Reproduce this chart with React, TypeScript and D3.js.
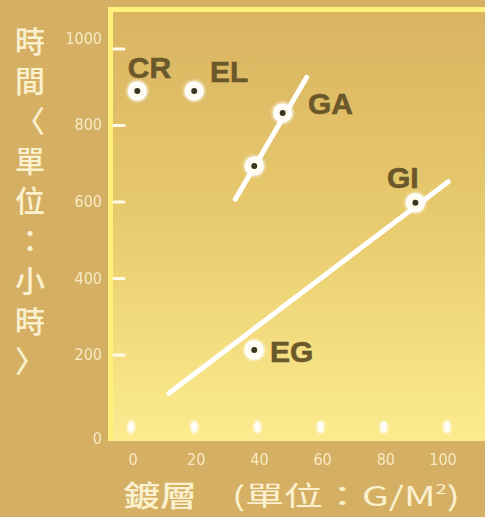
import React from "react";
import * as d3 from "d3";

const xTicks = [0, 20, 40, 60, 80, 100];
const yTicks = [0, 200, 400, 600, 800, 1000];
const pointNames = ["CR", "EL", "GA", "GA", "GI", "EG"];
const pointX = [2, 20, 48, 39, 90, 39];
const pointY = [890, 890, 833, 694, 598, 213];
const labelNames = ["CR", "EL", "GA", "GI", "EG"];
const labelX = [-1, 25, 56, 81, 44];
const labelY = [952, 940, 858, 663, 208];
const trendNames = ["GA", "GI"];
const trendX = [[33, 55.6], [12, 100.4]];
const trendY = [[607, 926], [100, 653]];
const yTitle = ["時", "間", "〈", "單", "位", "：", "小", "時", "〉"];

export default function App() {
  const W = 485, H = 517;
  const x = d3.scaleLinear().domain([0, 100]).range([131, 447]);
  const y = d3.scaleLinear().domain([0, 1000]).range([431.5, 49]);
  const line = d3.line<[number, number]>().x(d => x(d[0])).y(d => y(d[1]));
  const tickLabelY = [438, 354, 278, 201, 124, 38];
  const textFill = "#fbf1cf";
  return (
    <svg width={W} height={H} style={{ position: "absolute", left: 0, top: 0 }}>
      <defs>
        <linearGradient id="pg" x1="0" y1="0" x2="0" y2="1">
          <stop offset="0" stopColor="#d9b361" />
          <stop offset="0.5" stopColor="#e8cb6e" />
          <stop offset="1" stopColor="#fcec8f" />
        </linearGradient>
        <filter id="glow" x="-50%" y="-50%" width="200%" height="200%">
          <feGaussianBlur stdDeviation="1.2" />
        </filter>
      </defs>
      <rect x={0} y={0} width={W} height={H} fill="#d5b064" />
      <rect x={108} y={7} width={W - 108} height={434} fill="url(#pg)" />
      <path d={`M110.5,${441} V9.5 H${W}`} fill="none" stroke="#fff27c" strokeWidth={5} />
      {yTicks.slice(1).map(t => (
        <line key={t} x1={114} x2={124} y1={y(t)} y2={y(t)} stroke="#fffbe8" strokeWidth={3} strokeLinecap="round" />
      ))}
      {xTicks.map(t => (
        <ellipse key={t} cx={x(t)} cy={427} rx={4} ry={6.5} fill="#ffffff" opacity={0.95} filter="url(#glow)" />
      ))}
      {yTicks.map((t, i) => (
        <text key={t} x={102} y={tickLabelY[i]} dy="0.35em" textAnchor="end" fontFamily="'DejaVu Sans Condensed', 'DejaVu Sans', sans-serif" fontSize={16} fill={textFill} opacity={0.9}>{t}</text>
      ))}
      {xTicks.map(t => (
        <text key={t} x={x(t) + (t === 100 ? -4 : 2)} y={465} textAnchor="middle" fontFamily="'DejaVu Sans Condensed', 'DejaVu Sans', sans-serif" fontSize={16} fill={textFill} opacity={0.9}>{t}</text>
      ))}
      {trendNames.map((n, i) => (
        <path key={n} d={line(trendX[i].map((v, j) => [v, trendY[i][j]] as [number, number])) || ""} stroke="#ffffff" strokeWidth={5} strokeLinecap="round" fill="none" />
      ))}
      {pointNames.map((n, i) => (
        <g key={i} transform={`translate(${x(pointX[i])},${y(pointY[i])})`}>
          <circle r={11} fill="#ffffff" opacity={0.6} filter="url(#glow)" />
          <circle r={8.5} fill="#fffdf2" stroke="#ffffff" strokeWidth={2} />
          <circle r={3} fill="#3e3520" />
        </g>
      ))}
      {labelNames.map((n, i) => (
        <text key={n} x={x(labelX[i])} y={y(labelY[i])} dy="0.35em" fontFamily="'Liberation Sans', Arial, sans-serif" fontWeight="bold" fontSize={30} fill="#6b582a" stroke="#6b582a" strokeWidth={0.6}>{n}</text>
      ))}
      {yTitle.map((c, i) => (
        <text key={i} x={30} y={41 + i * 40} dy="0.35em" textAnchor="middle" fontFamily="'Noto Sans CJK TC', sans-serif" fontWeight="500" fontSize={30} fill={textFill}>{c}</text>
      ))}
      <text x={123} y={507} fontFamily="'Noto Sans CJK TC', sans-serif" fontWeight="500" fontSize={29} fill={textFill} textLength={74} lengthAdjust="spacingAndGlyphs">鍍層</text>
      <text x={232} y={506} fontFamily="'Noto Sans CJK TC', sans-serif" fontSize={27} fill={textFill} textLength={228} lengthAdjust="spacingAndGlyphs">(單位：G/M<tspan dy={-12} fontSize={14}>2</tspan><tspan dy={12}>)</tspan></text>
    </svg>
  );
}
